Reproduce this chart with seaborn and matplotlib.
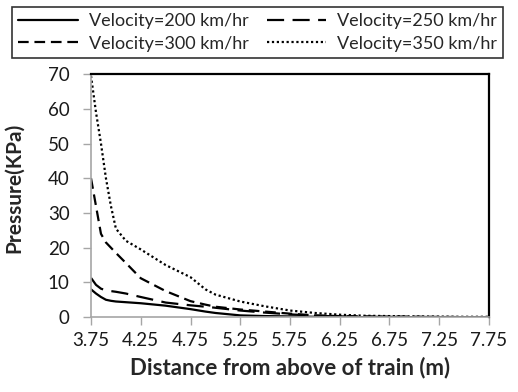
import numpy as np
import pandas as pd
import seaborn as sns
import matplotlib
matplotlib.use("Agg")
import matplotlib.pyplot as plt

# ---- data ----
distance = [3.75, 3.80, 3.85, 3.90, 3.95, 4.00, 4.10, 4.25, 4.50, 4.75, 4.90,
            5.00, 5.25, 5.50, 5.75, 6.00, 6.25, 6.50, 7.00, 7.50, 7.75]
p200 = [8.0, 6.8, 5.8, 5.0, 4.7, 4.5, 4.3, 4.0, 3.3, 2.3, 1.6,
        1.2, 0.5, 0.3, 0.2, 0.1, 0.05, 0.0, 0.0, 0.0, 0.0]
p250 = [11.3, 9.3, 8.2, 7.7, 7.5, 7.3, 6.8, 5.8, 4.2, 3.4, 3.0,
        2.7, 1.9, 1.3, 0.8, 0.4, 0.2, 0.1, 0.05, 0.0, 0.0]
p300 = [40.0, 32.0, 24.0, 21.5, 20.0, 18.5, 15.6, 11.2, 7.5, 4.6, 3.6,
        3.0, 2.2, 1.6, 1.0, 0.5, 0.3, 0.2, 0.1, 0.0, 0.0]
p350 = [69.5, 59.0, 50.0, 40.0, 32.0, 25.5, 22.0, 19.5, 15.0, 11.5, 8.0,
        6.5, 4.5, 3.1, 1.9, 1.2, 0.7, 0.4, 0.2, 0.1, 0.1]
labels = ["Velocity=200 km/hr", "Velocity=250 km/hr",
          "Velocity=300 km/hr", "Velocity=350 km/hr"]
x_ticks = [3.75, 4.25, 4.75, 5.25, 5.75, 6.25, 6.75, 7.25, 7.75]
y_ticks = [0, 10, 20, 30, 40, 50, 60, 70]

sns.set_theme(style="white")
plt.rcParams['font.family'] = ['Lato', 'DejaVu Sans']

fig = plt.figure(figsize=(5.18, 3.92), dpi=100)
ax = fig.add_axes([0.1757, 0.191, 0.7683, 0.620])

series = [p200, p250, p300, p350]
styles = [None, (7.7, 3.8), (4.8, 2.6), (1.0, 1.2)]
handles = []
for vals, lab, dsh in zip(series, labels, styles):
    df = pd.DataFrame({"x": distance, "y": vals})
    sns.lineplot(data=df, x="x", y="y", ax=ax, color="black", lw=1.6,
                 estimator=None, sort=False, legend=False)
    line = ax.lines[-1]
    if dsh is not None:
        line.set_dashes(dsh)
    line.set_label(lab)
    handles.append(line)

ax.set_xlim(3.75, 7.75)
ax.set_ylim(0, 70)
ax.set_xticks(x_ticks)
ax.set_xticklabels([f"{v:.2f}" for v in x_ticks])
ax.set_yticks(y_ticks)
ax.tick_params(axis="x", direction="out", length=5.5, width=1,
               color="#a6a6a6", labelsize=13.5, labelcolor="#1a1a1a",
               bottom=True, pad=5)
ax.tick_params(axis="y", direction="out", length=5.5, width=1,
               color="#a6a6a6", labelsize=13.5, labelcolor="#1a1a1a",
               left=True, pad=10)

for s in ["left", "bottom"]:
    ax.spines[s].set_color("#a6a6a6")
    ax.spines[s].set_linewidth(1.2)
for s in ["top", "right"]:
    ax.spines[s].set_color("black")
    ax.spines[s].set_linewidth(1.6)

ax.set_xlabel("Distance from above of train (m)", fontsize=16, fontweight="bold",
              labelpad=6)
ax.set_ylabel("Pressure(KPa)", fontsize=15, fontweight="bold")
ax.yaxis.set_label_coords(-0.168, 0.53)

order = [handles[0], handles[2], handles[1], handles[3]]
leg = fig.legend(order, [h.get_label() for h in order], ncol=2,
                 loc="upper left", bbox_to_anchor=(12 / 518, 1 - 7 / 392),
                 frameon=True, fancybox=False, edgecolor="black",
                 fontsize=13, handlelength=3.3, handletextpad=0.6,
                 columnspacing=1.0, borderpad=0.35, labelspacing=0.35,
                 borderaxespad=0)
leg.get_frame().set_linewidth(1.2)

fig.savefig("out.png", dpi=100)
